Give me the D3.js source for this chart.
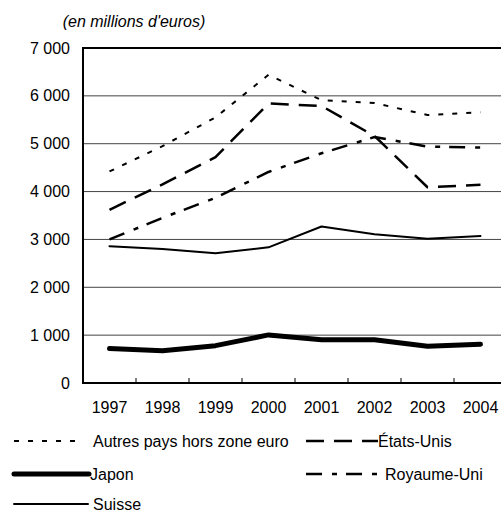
<!DOCTYPE html>
<html><head><meta charset="utf-8">
<script src="https://cdn.jsdelivr.net/npm/d3@7"></script>
<style>body{margin:0;background:#fff}svg{display:block;font-family:"Liberation Sans",Arial,sans-serif}</style>
</head><body><svg id="c" width="501" height="514"></svg>
<script>
const years = ["1997","1998","1999","2000","2001","2002","2003","2004"];
const autres = [4420, 4950, 5550, 6440, 5910, 5850, 5600, 5660];
const etatsUnis = [3620, 4150, 4720, 5840, 5790, 5160, 4090, 4140];
const royaumeUni = [3000, 3450, 3870, 4410, 4800, 5140, 4940, 4920];
const suisse = [2860, 2800, 2710, 2835, 3270, 3110, 3015, 3070];
const japon = [720, 675, 780, 1005, 905, 905, 770, 810];
const yTicks = [0, 1000, 2000, 3000, 4000, 5000, 6000, 7000];
const seriesNames = ["Autres pays hors zone euro", "États-Unis", "Japon", "Royaume-Uni", "Suisse"];

const series = [
  {name: seriesNames[0], values: autres, dash: "5,9", w: 2},
  {name: seriesNames[1], values: etatsUnis, dash: "18,10", w: 2.5},
  {name: seriesNames[2], values: japon, dash: null, w: 5},
  {name: seriesNames[3], values: royaumeUni, dash: "16,10,5,9", w: 2.5},
  {name: seriesNames[4], values: suisse, dash: null, w: 2}
];

const FS = 16;
const svg = d3.select("#c");
const L = 83, R = 507, T = 48, B = 383;
const x = d3.scaleBand().domain(years).range([L, R]);
const y = d3.scaleLinear().domain([0, 7000]).range([B, T]);

svg.append("text").attr("x", 134).attr("y", 21).attr("dy", "0.35em").attr("text-anchor", "middle")
  .attr("font-size", FS).attr("font-style", "italic").text("(en millions d'euros)");

// gridlines
svg.append("g").selectAll("line").data(yTicks.filter(d => d > 0 && d < 7000)).join("line")
  .attr("x1", L).attr("x2", 501).attr("y1", d => y(d)).attr("y2", d => y(d))
  .attr("stroke", "#444").attr("stroke-width", 1);

// y labels
svg.append("g").selectAll("text").data(yTicks).join("text")
  .attr("x", 70).attr("y", d => y(d)).attr("dy", "0.35em").attr("text-anchor", "end")
  .attr("font-size", FS).text(d => d3.format(",")(d).replace(/,/g, " "));

// x axis
const xa = svg.append("g").attr("transform", `translate(0,${B})`)
  .call(d3.axisBottom(x).tickSize(0).tickPadding(0));
xa.select(".domain").remove();
xa.selectAll("text").attr("font-size", FS).attr("font-family", "Liberation Sans, Arial, sans-serif").attr("y", 24).attr("dy", "0.35em");
svg.append("g").selectAll("line").data(years.slice(1)).join("line")
  .attr("x1", d => x(d)).attr("x2", d => x(d)).attr("y1", B).attr("y2", B - 5)
  .attr("stroke", "#000").attr("stroke-width", 1);

// frame
svg.append("line").attr("x1", L).attr("x2", 501).attr("y1", T).attr("y2", T).attr("stroke", "#000").attr("stroke-width", 2);
svg.append("line").attr("x1", L).attr("x2", 501).attr("y1", B).attr("y2", B).attr("stroke", "#000").attr("stroke-width", 2);
svg.append("line").attr("x1", L).attr("x2", L).attr("y1", T - 1).attr("y2", B + 1).attr("stroke", "#000").attr("stroke-width", 2);

const line = d3.line().x((d, i) => x(years[i]) + x.bandwidth() / 2).y(d => y(d));
svg.append("g").selectAll("path").data(series).join("path")
  .attr("d", d => line(d.values)).attr("fill", "none").attr("stroke", "#000")
  .attr("stroke-width", d => d.w).attr("stroke-dasharray", d => d.dash)
  .attr("stroke-linejoin", "round").attr("stroke-linecap", d => d.dash ? "butt" : "round");

// legend
const leg = [
  {s: series[0], x1: 14, x2: 84, tx: 93, y: 441},
  {s: series[1], x1: 306, x2: 378, tx: 378, y: 441},
  {s: series[2], x1: 14, x2: 89, tx: 90, y: 474},
  {s: series[3], x1: 306, x2: 381, tx: 385, y: 474},
  {s: series[4], x1: 14, x2: 88, tx: 93, y: 504}
];
const lg = svg.append("g").selectAll("g").data(leg).join("g");
lg.append("line").attr("x1", d => d.x1).attr("x2", d => d.x2).attr("y1", d => d.y).attr("y2", d => d.y)
  .attr("stroke", "#000").attr("stroke-width", d => d.s.w).attr("stroke-dasharray", d => d.s.dash)
  .attr("stroke-linecap", d => d.s.dash ? "butt" : "round");
lg.append("text").attr("x", d => d.tx).attr("y", d => d.y).attr("dy", "0.35em")
  .attr("font-size", FS).text(d => d.s.name);
</script></body></html>
